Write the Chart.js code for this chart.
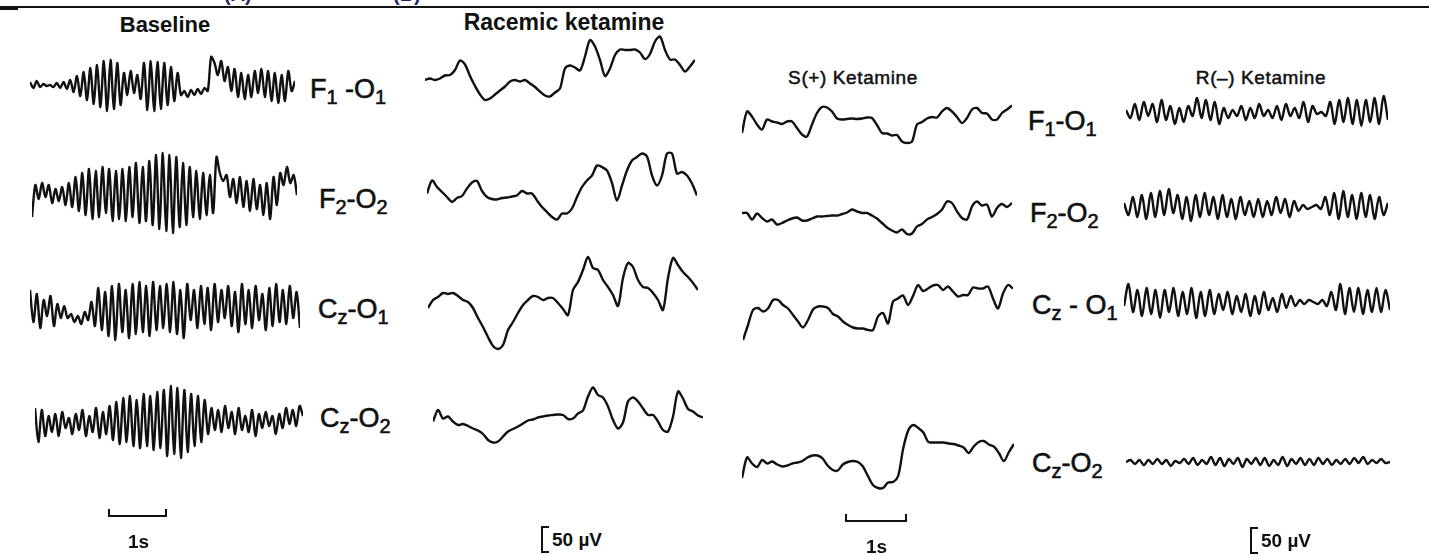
<!DOCTYPE html>
<html>
<head>
<meta charset="utf-8">
<script src="https://cdn.jsdelivr.net/npm/chart.js@4.4.1/dist/chart.umd.min.js"></script>
<style>
  body { margin: 0; width: 1429px; height: 555px; position: relative; overflow: hidden; background: #fff; color: #111; font-family: "Liberation Sans", "DejaVu Sans", sans-serif; }
  .trace { position: absolute; height: 140px; }
  .title { position: absolute; transform: translate(-50%, -50%); white-space: nowrap; line-height: 1; }
  .lead { position: absolute; transform: translateY(-50%); white-space: nowrap; line-height: 1; font-size: 27px; -webkit-text-stroke: 0.6px #111; }
  .lead .s { position: relative; top: 0.28em; font-size: 0.74em; }
  .rule { position: absolute; background: #111; }
  .cut { position: absolute; color: #1d2660; font-size: 20px; font-weight: bold; line-height: 1; white-space: nowrap; }
  .timebar { position: absolute; height: 6px; border: 2.5px solid #111; border-top: none; }
  .ampbar { position: absolute; width: 6px; height: 23px; border: 2.5px solid #111; border-right: none; }
  .scaletxt { position: absolute; font-size: 19px; line-height: 1; white-space: nowrap; transform: translateY(-50%); }
</style>
</head>
<body>
<script>
// EEG amplitudes in microvolts (sampled left to right along each trace)
const baselineF1O1 = [6,-6,8,-4,2,-2,0,-4,4,-6,6,-8,
  10,-14,18,-22,26,-30,34,-38,40,-44,
  48,-52,50,-48,44,-40,
  24,-20,28,-16,20,-28,
  44,-50,48,-52,46,-48,44,-40,36,-32,24,
  -20,-12,-24,-10,-20,-8,-18,-6,-12,
  56,
  44,20,48,8,36,-12,32,-24,24,-28,20,-24,28,-16,32,-24,28,-32,24,-36,20,-32,28,-12,8];
const baselineF2O2 = [-48,16,-12,20,-8,16,-20,8,-16,12,-24,20,-28,32,
  -36,40,-44,48,-52,44,-48,52,-40,48,-56,44,-52,48,-56,52,-48,60,-60,52,-56,64,-64,
  76,-72,80,-76,76,-80,72,-68,60,-64,
  52,-48,44,-52,40,-44,36,-40,
  72,
  40,24,36,-8,28,-20,32,-28,24,-36,28,-32,16,-44,20,-52,32,-24,40,16,52,20,36,-4];
const baselineCzO1 = [40,-24,32,-36,20,-12,28,-32,12,-16,8,
  -16,-8,-24,-12,-28,-4,-20,16,-32,
  44,-40,36,-52,48,-60,52,-44,40,-56,52,-48,56,-44,48,-52,56,-40,48,-36,52,-44,56,-48,40,-56,
  52,-20,40,-36,48,-28,44,-40,52,-24,40,-16,48,-32,36,-44,52,-28,40,-36,48,-20,32,-40,44,-32,52,-24,40,-28,48,-16,36,-36];
const baselineCzO2 = [28,-40,24,-28,
  12,-20,16,-28,20,-12,8,-24,16,-16,24,-28,12,-20,28,-32,20,-24,32,
  -36,40,-44,48,-40,52,-48,44,-52,56,-48,52,-56,60,-52,64,
  -68,72,-64,68,-72,64,-60,56,
  -48,52,-40,44,
  -24,28,-16,24,-20,32,-12,20,-24,28,-16,12,-20,24,-28,16,-12,20,-8,12,-24,16,-12,28,-4,24,-8,32,12];

const racemicF1O1 = [-20,-17,-20,-17,-11,-10,0,19,11,-12,-32,-49,-60,-57,-49,-41,-33,-23,-20,-23,-20,-27,-34,-43,-51,-53,-45,-37,
  3,9,5,-1,27,60,47,20,-12,3,30,41,40,40,41,35,22,32,57,67,40,21,21,10,-3,7,20];
const racemicF2O2 = [-13,13,0,-10,-20,-30,-22,-18,-3,9,12,-8,-20,-24,-25,-22,-21,-19,-17,-8,-13,-13,-27,-40,-50,-60,-65,-53,-53,-43,
  -20,0,13,23,43,40,33,8,-27,3,33,53,60,67,61,23,3,23,67,67,27,30,23,7,-17];
const racemicCzO1 = [-16,0,6,14,12,14,8,0,-4,-16,-36,-54,-74,-92,-98,-90,-60,-44,-26,-10,0,8,6,0,4,4,-6,-18,-30,
  20,36,60,86,64,60,40,26,10,-12,44,74,66,40,26,24,14,0,-20,44,84,70,56,46,34,20];
const racemicCzO2 = [-3,20,3,7,-3,-10,-8,-12,-17,-21,-28,-40,-45,-43,-33,-23,-18,-13,-7,-1,1,5,7,9,10,11,10,2,3,
  13,19,47,65,50,45,27,0,-17,-5,37,45,37,23,10,10,-3,-20,-23,7,57,43,22,17,9,5];

const sKetF1O1 = [-20,23,13,-3,-13,7,3,1,-2,3,3,-10,-23,-27,-3,20,32,31,23,9,7,8,9,8,9,11,10,-4,-20,-21,
  -25,-24,-37,-40,-37,-3,2,9,12,11,23,30,23,12,0,10,27,30,20,19,7,7,20,27,35];
const sKetF2O2 = [10,10,-3,9,0,-7,-3,-13,-10,-5,-1,1,-5,-5,-1,3,3,4,5,5,8,11,17,13,10,10,5,-1,-10,-19,
  -25,-29,-23,-32,-31,-17,-12,-3,2,8,17,33,30,13,0,-3,23,33,25,27,3,20,28,22,30];
const sKetCzO1 = [-60,-30,0,4,-3,3,20,20,10,3,-10,-23,-35,-20,1,7,7,4,-8,-13,-23,-30,-35,-37,-37,-40,-40,-13,-6,-27,
  17,23,29,10,28,50,38,43,49,50,40,47,37,27,30,30,45,43,43,47,23,3,33,50,43];
const sKetCzO2 = [-36,5,-7,-14,0,-7,-3,-9,-13,-11,-7,-5,-2,5,9,9,3,-11,-20,-21,-9,-4,-2,-4,-13,-32,-50,-56,-56,-45,
  -44,-32,23,59,70,64,55,36,35,35,35,33,32,29,25,14,27,36,38,31,27,14,-2,16,32];

const rKetF1O1 = [4,-12,16,-16,20,-8,16,-20,24,-16,12,-24,8,-20,12,-8,28,-12,24,-16,20,-24,
  8,-12,4,-8,12,-16,8,-12,16,-8,4,-12,12,-16,16,-8,8,-12,20,-20,12,-4,0,
  -8,20,-24,24,-20,28,-24,24,-28,24,-20,28,-24,32,-16];
const rKetF2O2 = [8,-16,20,-20,24,-24,28,-20,32,-16,36,-12,24,-24,
  20,-28,24,-20,28,-16,20,-24,24,-20,16,-24,20,-16,12,-20,16,
  -20,12,-16,20,-12,16,-20,12,-8,4,-4,0,4,-4,
  20,-16,28,-24,32,-20,24,-24,28,-20,24,-24,20,-16,8];
const rKetCzO1 = [-8,36,-20,24,-28,28,-24,24,-32,24,-20,28,-28,20,-24,28,-32,20,-28,24,-24,16,
  -16,20,-24,12,-20,16,-28,12,-24,20,-16,8,-20,16,-12,12,-8,
  4,-4,4,0,-4,4,-8,
  20,-16,36,-24,28,-20,28,-24,24,-20,28,-20,24,-16];
const rKetCzO2 = [0,4,-4,4,-6,4,-4,6,-4,4,-8,2,-2,6,-4,8,-6,4,-4,10,-6,8,-8,6,-4,8,-10,6,-4,8,
  -6,8,-8,4,-6,10,-8,6,-4,8,-6,6,-6,8,-4,6,-6,4,-4,6,-4,8,-2,10,-4,4,-2,6,-2,0];

const conditions = ['Baseline', 'Racemic ketamine', 'S(+) Ketamine', 'R(\u2013) Ketamine'];
const panelTags = ['(A)', '(B)'];
const leftLeads = [['F', '1', ' -O', '1'], ['F', '2', '-O', '2'], ['C', 'z', '-O', '1'], ['C', 'z', '-O', '2']];
const rightLeads = [['F', '1', '-O', '1'], ['F', '2', '-O', '2'], ['C', 'z', ' - O', '1'], ['C', 'z', '-O', '2']];
const timeScaleLabel = '1s';
const ampScaleLabel = '50 \u00b5V';

const UV_PER_PX = 2;
const BOX_H = 140;

// where each trace sits on the page
const traces = [
  { data: baselineF1O1, left: 30, width: 265, center: 85 },
  { data: baselineF2O2, left: 32, width: 265, center: 193 },
  { data: baselineCzO1, left: 30, width: 270, center: 310 },
  { data: baselineCzO2, left: 35, width: 268, center: 422 },
  { data: racemicF1O1, left: 425, width: 270, center: 70 },
  { data: racemicF2O2, left: 427, width: 270, center: 187 },
  { data: racemicCzO1, left: 428, width: 270, center: 300 },
  { data: racemicCzO2, left: 433, width: 270, center: 420 },
  { data: sKetF1O1, left: 742, width: 270, center: 123 },
  { data: sKetF2O2, left: 742, width: 270, center: 218 },
  { data: sKetCzO1, left: 743, width: 270, center: 310 },
  { data: sKetCzO2, left: 742, width: 272, center: 460 },
  { data: rKetF1O1, left: 1126, width: 262, center: 112 },
  { data: rKetF2O2, left: 1124, width: 264, center: 207 },
  { data: rKetCzO1, left: 1124, width: 266, center: 302 },
  { data: rKetCzO2, left: 1126, width: 264, center: 462 }
];

function drawTrace(t) {
  const box = document.createElement('div');
  box.className = 'trace';
  box.style.left = t.left + 'px';
  box.style.width = t.width + 'px';
  box.style.top = (t.center - BOX_H / 2) + 'px';
  const cv = document.createElement('canvas');
  box.appendChild(cv);
  document.body.appendChild(box);
  const range = BOX_H / 2 * UV_PER_PX;
  new Chart(cv, {
    type: 'line',
    data: {
      labels: t.data.map((v, i) => i),
      datasets: [{
        data: t.data,
        borderColor: '#111',
        borderWidth: 2.4,
        pointRadius: 0,
        tension: 0.3,
        clip: false
      }]
    },
    options: {
      responsive: true,
      maintainAspectRatio: false,
      animation: false,
      events: [],
      layout: { padding: 0 },
      plugins: { legend: { display: false }, tooltip: { enabled: false } },
      scales: {
        x: { display: false },
        y: { display: false, min: -range, max: range }
      }
    }
  });
}

function addText(cls, html, x, y, style) {
  const d = document.createElement('div');
  d.className = cls;
  d.innerHTML = html;
  d.style.left = x + 'px';
  d.style.top = y + 'px';
  Object.assign(d.style, style || {});
  document.body.appendChild(d);
  return d;
}

function leadHtml(parts) {
  return parts[0] + '<span class="s">' + parts[1] + '</span>' + parts[2] + '<span class="s">' + parts[3] + '</span>';
}

function addBox(cls, x, y, w, h) {
  const d = document.createElement('div');
  d.className = cls;
  d.style.left = x + 'px';
  d.style.top = y + 'px';
  if (w != null) d.style.width = w + 'px';
  if (h != null) d.style.height = h + 'px';
  document.body.appendChild(d);
}

// panel tags cut off by the page top, then the top rule
addText('cut', panelTags[0], 224, -16);
addText('cut', panelTags[1], 393, -16);
addBox('rule', 0, 6, 1429, 2);
addBox('rule', 0, 6, 18, 4);

// column titles
addText('title', conditions[0], 165, 25, { fontSize: '22px', fontWeight: 'bold' });
addText('title', conditions[1], 564, 22, { fontSize: '23px', fontWeight: 'bold' });
addText('title', conditions[2], 853, 77, { fontSize: '19px', letterSpacing: '0.6px', webkitTextStroke: '0.5px #111' });
addText('title', conditions[3], 1261, 77, { fontSize: '19px', letterSpacing: '0.6px', webkitTextStroke: '0.5px #111' });

// lead labels
const leftX = [310, 319, 318, 320];
const leftY = [89, 199, 309, 418];
const rightX = [1028, 1030, 1032, 1032];
const rightY = [121, 213, 305, 463];
leftLeads.forEach((p, i) => addText('lead', leadHtml(p), leftX[i], leftY[i]));
rightLeads.forEach((p, i) => addText('lead', leadHtml(p), rightX[i], rightY[i]));

traces.forEach(drawTrace);

// scale bars
addBox('timebar', 108, 509, 55, null);
addText('scaletxt', timeScaleLabel, 128, 541, { fontWeight: 'bold' });
addBox('ampbar', 541, 526, null, null);
addText('scaletxt', ampScaleLabel, 552, 539, { fontWeight: 'bold' });
addBox('timebar', 845, 514, 58, null);
addText('scaletxt', timeScaleLabel, 866, 546, { fontWeight: 'bold' });
addBox('ampbar', 1250, 527, null, null);
addText('scaletxt', ampScaleLabel, 1261, 540, { fontWeight: 'bold' });
</script>
</body>
</html>
